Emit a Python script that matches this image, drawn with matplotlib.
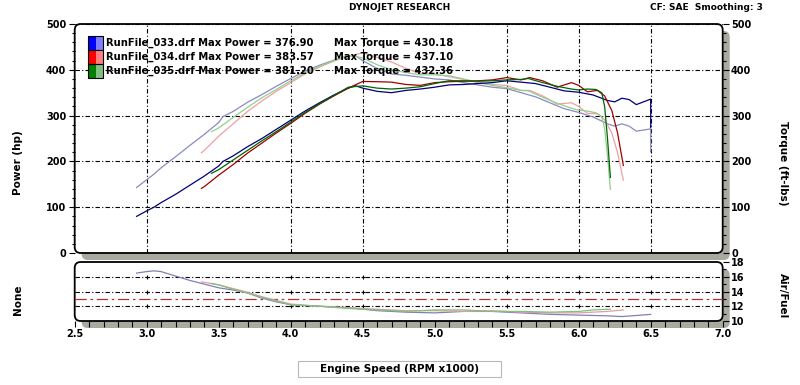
import matplotlib
matplotlib.use("Agg")
import matplotlib.pyplot as plt
import matplotlib.transforms as mtransforms
from matplotlib.patches import FancyBboxPatch, Rectangle
from matplotlib.ticker import MultipleLocator, FixedLocator, FormatStrFormatter

W, H = 800, 385

# ---- run 033 (blue) ----
rpm_033 = [2.93, 3.0, 3.05, 3.1, 3.2, 3.3, 3.4, 3.5, 3.53, 3.6, 3.7, 3.8, 3.9, 4.0, 4.1, 4.2, 4.3,
           4.4, 4.45, 4.5, 4.6, 4.7, 4.8, 4.9, 5.0, 5.1, 5.2, 5.3, 5.4, 5.5, 5.6, 5.7, 5.8, 5.9,
           6.0, 6.1, 6.2, 6.25, 6.3, 6.35, 6.4, 6.5, 6.5]
hp_033 = [80, 92, 100, 110, 128, 148, 168, 190, 200, 212, 232, 250, 270, 290, 310, 328, 345,
          360, 365, 360, 353, 350, 355, 358, 362, 367, 368, 370, 372, 376, 373, 370, 362, 354,
          351, 345, 333, 330, 338, 335, 324, 336, 274]
tq_033 = [143, 160, 172, 186, 210, 235, 259, 285, 298, 309, 329, 346, 364, 381, 397, 410, 421,
          430, 431, 420, 403, 391, 388, 384, 380, 378, 372, 367, 362, 359, 350, 341, 328, 315,
          307, 297, 282, 277, 282, 277, 266, 271, 221]

# ---- run 034 (red) ----
rpm_034 = [3.38, 3.4, 3.5, 3.6, 3.7, 3.8, 3.9, 4.0, 4.1, 4.2, 4.3, 4.4, 4.5, 4.6, 4.7, 4.8, 4.9,
           5.0, 5.1, 5.2, 5.3, 5.4, 5.5, 5.6, 5.66, 5.75, 5.85, 5.95, 6.0, 6.06, 6.13, 6.18,
           6.23, 6.27, 6.31]
hp_034 = [141, 145, 170, 193, 218, 240, 262, 283, 305, 325, 343, 360, 374.5, 374, 373, 368, 366,
          372, 374, 375, 376, 378, 383, 378, 383, 376, 362, 372, 366, 352, 355, 343,
          311, 262, 191]
tq_034 = [219, 224, 255, 282, 309, 332, 353, 372, 391, 406, 419, 430, 437, 427, 417, 403, 392,
          391, 385, 379, 373, 368, 366, 355, 355, 343, 325, 328, 320, 305, 304, 291,
          262, 219, 159]

# ---- run 035 (green) ----
rpm_035 = [3.45, 3.5, 3.6, 3.7, 3.8, 3.9, 4.0, 4.1, 4.2, 4.3, 4.4, 4.5, 4.6, 4.7, 4.8, 4.9, 5.0,
           5.1, 5.2, 5.3, 5.4, 5.5, 5.6, 5.65, 5.75, 5.85, 5.95, 6.0, 6.06, 6.12, 6.16, 6.18,
           6.2, 6.22]
hp_035 = [174, 182, 203, 224, 245, 265, 286, 307, 326, 344, 362, 365, 360, 358, 360, 363, 370,
          376, 376, 375, 376, 378, 379, 381, 372, 364, 358, 356, 358, 357, 350, 320,
          250, 165]
tq_035 = [265, 273, 296, 318, 339, 357, 376, 393, 408, 420, 432, 426, 411, 400, 394, 389, 389,
          387, 380, 372, 366, 361, 355, 354, 340, 327, 316, 312, 310, 306, 298, 272,
          212, 139]

# ---- air / fuel ----
afr_rpm_033 = [2.93, 3.0, 3.05, 3.1, 3.2, 3.3, 3.4, 3.5, 3.6, 3.7, 3.8, 3.9, 4.0, 4.2, 4.4, 4.6,
               4.8, 5.0, 5.2, 5.4, 5.6, 5.8, 6.0, 6.2, 6.3, 6.5]
afr_033 = [16.5, 16.7, 16.8, 16.7, 16.1, 15.5, 15.0, 14.5, 14.2, 13.8, 13.1, 12.6, 12.2, 12.0,
           11.8, 11.4, 11.2, 11.1, 11.3, 11.3, 11.1, 10.9, 10.8, 10.7, 10.6, 10.9]
afr_rpm_034 = [3.38, 3.5, 3.6, 3.7, 3.8, 3.9, 4.0, 4.2, 4.4, 4.6, 4.8, 5.0, 5.2, 5.4, 5.6, 5.8,
               6.0, 6.2, 6.31]
afr_034 = [15.3, 14.9, 14.4, 13.9, 13.3, 12.8, 12.3, 12.0, 11.8, 11.6, 11.4, 11.4, 11.3, 11.4,
           11.2, 11.1, 11.1, 11.3, 11.5]
afr_rpm_035 = [3.45, 3.5, 3.6, 3.7, 3.8, 3.9, 4.0, 4.2, 4.4, 4.6, 4.8, 5.0, 5.2, 5.4, 5.6, 5.8,
               6.0, 6.1, 6.22]
afr_035 = [15.1, 14.9, 14.3, 13.8, 13.2, 12.7, 12.2, 12.0, 11.7, 11.5, 11.3, 11.5, 11.5, 11.3,
           11.3, 11.2, 11.3, 11.5, 11.6]

run_names = ['RunFile_033.drf', 'RunFile_034.drf', 'RunFile_035.drf']
max_power = ['376.90', '383.57', '381.20']
max_torque = ['430.18', '437.10', '432.36']
afr_target = 13.0

vgrid = [3.0, 4.0, 4.5, 5.5, 6.0, 6.5]
afr_grid = [12, 14, 16]

power_colors = ['#00007a', '#a00000', '#006400']
torque_colors = ['#8a8ac0', '#f0a0a0', '#90d090']
afr_colors = ['#8080b8', '#e0a0a0', '#80c080']
box_dark = ['#0000ff', '#ff0000', '#008000']
box_light = ['#8080ff', '#ff8080', '#80c080']

plt.rcParams['font.family'] = ['DejaVu Sans']
plt.rcParams['font.weight'] = 'bold'
grid_ls = (0, (4, 2, 1, 2))

fig = plt.figure(figsize=(8, 3.85), dpi=100)
px = mtransforms.Affine2D().scale(1.0 / W, 1.0 / H) + fig.transFigure


def panel(x0, y0, x1, y1):
    # y given from the top of the picture
    sh = FancyBboxPatch((x0 + 7, H - y1 - 7), x1 - x0, y1 - y0,
                        boxstyle='round,pad=0,rounding_size=6', transform=px,
                        fc='#aaa9a0', ec='none', zorder=-3)
    fr = FancyBboxPatch((x0, H - y1), x1 - x0, y1 - y0,
                        boxstyle='round,pad=0,rounding_size=6', transform=px,
                        fc='white', ec='black', lw=1.3, zorder=-2)
    fig.add_artist(sh)
    fig.add_artist(fr)


L, R = 74.7, 722.7
panel(L, 24, R, 253)
panel(L, 262, R, 321)

ax = fig.add_axes([L / W, 1 - 253 / H, (R - L) / W, (253 - 24) / H])
ax2 = fig.add_axes([L / W, 1 - 321 / H, (R - L) / W, (321 - 262) / H])
for a in (ax, ax2):
    a.patch.set_visible(False)
    for s in a.spines.values():
        s.set_visible(False)
    a.set_xlim(2.5, 7.0)

# main panel
runs = [(rpm_033, hp_033, tq_033), (rpm_034, hp_034, tq_034), (rpm_035, hp_035, tq_035)]
for i, (r, hp, tq) in enumerate(runs):
    ax.plot(r, tq, color=torque_colors[i], lw=0.9, zorder=3)
for i, (r, hp, tq) in enumerate(runs):
    ax.plot(r, hp, color=power_colors[i], lw=0.9, zorder=4)

ax.set_ylim(0, 500)
ax.xaxis.set_major_locator(FixedLocator(vgrid))
ax.tick_params(axis='x', length=0, labelbottom=False)
ax.yaxis.set_major_locator(MultipleLocator(100))
ax.yaxis.set_minor_locator(MultipleLocator(20))
ax.tick_params(axis='y', which='both', direction='out', left=True, right=True,
               labelleft=True, labelright=True, labelsize=7, pad=2, width=0.8)
ax.tick_params(axis='y', which='major', length=4)
ax.tick_params(axis='y', which='minor', length=2)
ax.grid(True, color='black', lw=0.8, ls=grid_ls)

# legend
for i in range(3):
    yc = 43 + 14 * i
    fig.add_artist(Rectangle((88, H - yc - 7), 7.5, 14, transform=px, fc=box_dark[i], ec='none'))
    fig.add_artist(Rectangle((95.5, H - yc - 7), 7.5, 14, transform=px, fc=box_light[i], ec='none'))
    fig.add_artist(Rectangle((88, H - yc - 7), 15, 14, transform=px, fc='none', ec='black', lw=0.8))
    fig.text(106 / W, 1 - yc / H, run_names[i] + ' Max Power = ' + max_power[i],
             fontsize=7.2, va='center', ha='left')
    fig.text(334 / W, 1 - yc / H, 'Max Torque = ' + max_torque[i],
             fontsize=7.2, va='center', ha='left')

# air / fuel panel
afr_runs = [(afr_rpm_033, afr_033), (afr_rpm_034, afr_034), (afr_rpm_035, afr_035)]
for i, (r, v) in enumerate(afr_runs):
    ax2.plot(r, v, color=afr_colors[i], lw=0.9, zorder=3)
ax2.axhline(afr_target, color='#b03030', lw=0.9, ls=(0, (9, 3, 2, 3)), zorder=2)
for g in afr_grid:
    ax2.axhline(g, color='black', lw=0.8, ls=grid_ls, zorder=1)
    ax2.plot(vgrid, [g] * len(vgrid), ls='none', marker='+', ms=3, mew=0.8, color='black')

ax2.set_ylim(10, 18)
ax2.yaxis.set_major_locator(MultipleLocator(2))
ax2.yaxis.set_minor_locator(MultipleLocator(1))
ax2.tick_params(axis='y', which='both', direction='out', left=False, right=True,
                labelleft=False, labelright=True, labelsize=7, pad=2, width=0.8)
ax2.tick_params(axis='y', which='major', length=4)
ax2.tick_params(axis='y', which='minor', length=2.5)
ax2.xaxis.set_major_locator(MultipleLocator(0.5))
ax2.xaxis.set_minor_locator(MultipleLocator(0.1))
ax2.xaxis.set_major_formatter(FormatStrFormatter('%.1f'))
ax2.tick_params(axis='x', which='both', direction='out', length=4, width=0.8,
                labelsize=7, pad=2)

# header texts
fig.text(400 / W, 1 - 8 / H, 'DYNOJET RESEARCH', fontsize=6.5, ha='center', va='center')
fig.text(763 / W, 1 - 8 / H, 'CF: SAE  Smoothing: 3', fontsize=6.5, ha='right', va='center')

# axis titles
fig.text(18 / W, 1 - 163 / H, 'Power (hp)', rotation=90, fontsize=7.5, ha='center', va='center')
fig.text(783 / W, 1 - 163 / H, 'Torque (ft-lbs)', rotation=270, fontsize=7.5, ha='center', va='center')
fig.text(18 / W, 1 - 300 / H, 'None', rotation=90, fontsize=7.5, ha='center', va='center')
fig.text(783 / W, 1 - 296 / H, 'Air/Fuel', rotation=270, fontsize=7.5, ha='center', va='center')

fig.add_artist(Rectangle((298, H - 377), 203, 16, transform=px, fc='white', ec='#b8b8b8', lw=0.8))
fig.text(400 / W, 1 - 369 / H, 'Engine Speed (RPM x1000)', fontsize=7.5, ha='center', va='center')

fig.savefig('out.png', dpi=100)
